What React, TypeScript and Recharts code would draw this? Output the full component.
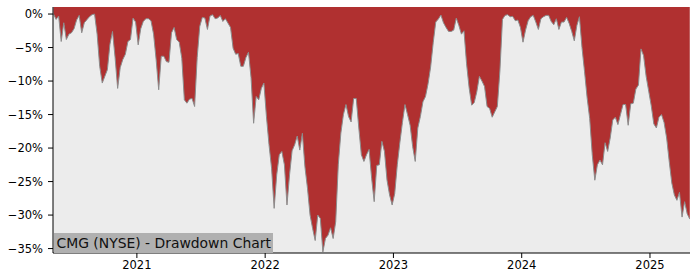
import React from 'react';
import { AreaChart, Area, XAxis, YAxis, CartesianGrid } from 'recharts';

const years = [
  2020.35, 2020.37, 2020.39, 2020.41, 2020.43, 2020.45, 2020.47, 2020.49, 2020.51, 2020.53,
  2020.55, 2020.57, 2020.59, 2020.61, 2020.63, 2020.65, 2020.67, 2020.69, 2020.71, 2020.73,
  2020.75, 2020.77, 2020.79, 2020.81, 2020.83, 2020.85, 2020.87, 2020.89, 2020.91, 2020.93,
  2020.95, 2020.97, 2020.99,
  2021.01, 2021.03, 2021.05, 2021.07, 2021.09, 2021.11, 2021.13, 2021.15, 2021.17, 2021.19,
  2021.21, 2021.23, 2021.25, 2021.27, 2021.29, 2021.31, 2021.33, 2021.35, 2021.37, 2021.39,
  2021.41, 2021.43, 2021.45, 2021.47, 2021.49, 2021.51, 2021.53, 2021.55, 2021.57, 2021.59,
  2021.61, 2021.63, 2021.65, 2021.67, 2021.69, 2021.71, 2021.73, 2021.75, 2021.77, 2021.79,
  2021.81, 2021.83, 2021.85, 2021.87, 2021.89, 2021.91, 2021.93, 2021.95, 2021.97, 2021.99,
  2022.01, 2022.03, 2022.05, 2022.07, 2022.09, 2022.11, 2022.13, 2022.15, 2022.17, 2022.19,
  2022.21, 2022.23, 2022.25, 2022.27, 2022.29, 2022.31, 2022.33, 2022.35, 2022.37, 2022.39,
  2022.41, 2022.43, 2022.45, 2022.47, 2022.49, 2022.51, 2022.53, 2022.55, 2022.57, 2022.59,
  2022.61, 2022.63, 2022.65, 2022.67, 2022.69, 2022.71, 2022.73, 2022.75, 2022.77, 2022.79,
  2022.81, 2022.83, 2022.85, 2022.87, 2022.89, 2022.91, 2022.93, 2022.95, 2022.97, 2022.99,
  2023.01, 2023.03, 2023.05, 2023.07, 2023.09, 2023.11, 2023.13, 2023.15, 2023.17, 2023.19,
  2023.21, 2023.23, 2023.25, 2023.27, 2023.29, 2023.31, 2023.33, 2023.35, 2023.37, 2023.39,
  2023.41, 2023.43, 2023.45, 2023.47, 2023.49, 2023.51, 2023.53, 2023.55, 2023.57, 2023.59,
  2023.61, 2023.63, 2023.65, 2023.67, 2023.69, 2023.71, 2023.73, 2023.75, 2023.77, 2023.79,
  2023.81, 2023.83, 2023.85, 2023.87, 2023.89, 2023.91, 2023.93, 2023.95, 2023.97, 2023.99,
  2024.01, 2024.03, 2024.05, 2024.07, 2024.09, 2024.11, 2024.13, 2024.15, 2024.17, 2024.19,
  2024.21, 2024.23, 2024.25, 2024.27, 2024.29, 2024.31, 2024.33, 2024.35, 2024.37, 2024.39,
  2024.41, 2024.43, 2024.45, 2024.47, 2024.49, 2024.51, 2024.53, 2024.55, 2024.57, 2024.59,
  2024.61, 2024.63, 2024.65, 2024.67, 2024.69, 2024.71, 2024.73, 2024.75, 2024.77, 2024.79,
  2024.81, 2024.83, 2024.85, 2024.87, 2024.89, 2024.91, 2024.93, 2024.95, 2024.97, 2024.99,
  2025.01, 2025.03, 2025.05, 2025.07, 2025.09, 2025.11, 2025.13, 2025.15, 2025.17, 2025.19,
  2025.21, 2025.23, 2025.25, 2025.27, 2025.29, 2025.31,
];

const drawdown = [
  0, -0.8, -0.3, -4.1, -1.3, -3.8, -3.0, -2.8, -2.2, -0.9,
  -0.2, -2.8, -1.3, -0.85, -0.4, -0.1, 0, -3.0, -7.8, -10.3,
  -9.3, -8.3, -4.5, -2.6, -6.5, -11.1, -8.0, -6.8, -6.0, -4.1,
  -3.8, -0.6, -1.2, -4.6, -2.2, -1.1, -0.7, -0.7, -1.0, -3.0,
  -6.8, -11.3, -6.3, -6.3, -7.1, -7.2, -2.8, -2.0, -3.8, -4.2,
  -6.6, -12.8, -13.3, -12.7, -12.6, -13.8, -6.5, -1.85, -0.5, -0.6,
  -2.3, -0.3, -0.1, -0.7, -0.6, -0.2, -1.1, -0.7, -1.35, -2.0,
  -5.1, -6.0, -5.9, -7.8, -7.8, -6.5, -5.7, -9.5, -16.3, -12.3,
  -12.8, -11.1, -10.3, -15.3, -19.5, -23.0, -29.0, -24.0, -21.0, -20.5,
  -22.5, -28.5, -24.0, -20.4, -19.5, -18.2, -20.3, -17.8, -22.8, -26.0,
  -30.0, -32.0, -33.8, -30.0, -30.5, -35.5, -33.5, -33.0, -31.9, -33.5,
  -31.0, -22.5, -17.8, -15.0, -13.5, -15.3, -16.1, -12.6, -12.6, -17.0,
  -21.0, -22.0, -21.0, -20.2, -24.5, -28.0, -22.6, -22.5, -19.0, -20.5,
  -24.8, -27.0, -28.5, -26.8, -22.5, -19.2, -16.2, -13.5, -15.0, -16.6,
  -19.8, -22.0, -17.0, -15.3, -13.1, -12.3, -10.4, -7.9, -4.3, -1.2,
  -0.75, -0.15, -1.3, -2.0, -2.6, -2.6, -2.4, -0.6, -1.7, -3.0,
  -2.5, -7.4, -11.0, -13.6, -13.2, -11.6, -9.3, -10.0, -10.8, -13.8,
  -14.1, -15.4, -14.6, -13.8, -8.5, -0.8, -0.2, -0.1, -0.4, -0.35,
  -1.0, -0.9, -2.0, -4.2, -2.4, -1.0, -0.4, -0.2, -1.2, -2.3,
  -0.7, -0.4, -0.2, -0.2, -1.1, -1.6, -0.7, -2.3, -1.2, -1.2,
  -0.5, -1.4, -2.6, -4.0, -1.7, -0.4, -5.0, -8.6, -12.5, -15.6,
  -21.0, -24.8, -22.5, -21.8, -22.5, -19.2, -20.5, -18.5, -15.8, -15.4,
  -16.5, -15.0, -13.5, -13.5, -16.6, -13.4, -13.3, -11.2, -10.6, -5.2,
  -6.2, -9.3, -11.5, -13.7, -16.4, -17.0, -15.4, -15.0, -16.2, -18.5,
  -22.0, -25.2, -27.0, -27.8, -26.6, -30.3, -28.0, -29.8, -30.6,
];

const xTicks = [2021, 2022, 2023, 2024, 2025];
const yTicks = [0, -5, -10, -15, -20, -25, -30, -35];
const title = 'CMG (NYSE) - Drawdown Chart';

const data = years.map((year, i) => ({ year, dd: drawdown[i] }));

const X_DOMAIN: [number, number] = [2020.346, 2025.312];
const Y_DOMAIN: [number, number] = [-35.66, 1.05];

const FONT = '"DejaVu Sans", sans-serif';

const fmtPct = (v: number) => (v === 0 ? '0%' : (v < 0 ? '\u2212' : '') + Math.abs(v) + '%');

export default function App() {
  return (
    <div style={{ position: 'absolute', left: 0, top: 0, width: 700, height: 280, background: '#fff' }}>
      <AreaChart
        width={700}
        height={280}
        data={data}
        margin={{ top: 7, right: 10, bottom: 0, left: 0 }}
        style={{ fontFamily: FONT }}
      >
        <CartesianGrid fill="#ececec" stroke="none" horizontal={false} vertical={false} />
        <XAxis
          dataKey="year"
          type="number"
          domain={X_DOMAIN}
          allowDataOverflow
          ticks={xTicks}
          tickFormatter={(v: number) => String(v)}
          height={27}
          tickSize={5}
          tickMargin={3}
          axisLine={{ stroke: '#000', strokeWidth: 1 }}
          tickLine={{ stroke: '#000', strokeWidth: 1 }}
          tick={{ fill: '#000', fontSize: 11.5, fontFamily: FONT }}
          interval={0}
        />
        <XAxis
          xAxisId="top"
          orientation="top"
          dataKey="year"
          type="number"
          domain={X_DOMAIN}
          allowDataOverflow
          height={0}
          tick={false}
          tickLine={false}
          axisLine={{ stroke: '#000', strokeWidth: 1 }}
        />
        <YAxis
          type="number"
          domain={Y_DOMAIN}
          allowDataOverflow
          ticks={yTicks}
          tickFormatter={fmtPct}
          width={53}
          tickSize={5}
          tickMargin={5}
          axisLine={{ stroke: '#000', strokeWidth: 1 }}
          tickLine={{ stroke: '#000', strokeWidth: 1 }}
          tick={{ fill: '#000', fontSize: 11.5, fontFamily: FONT }}
          interval={0}
        />
        <YAxis
          yAxisId="right"
          orientation="right"
          type="number"
          domain={Y_DOMAIN}
          allowDataOverflow
          width={0}
          tick={false}
          tickLine={false}
          axisLine={{ stroke: '#000', strokeWidth: 1 }}
        />
        <Area
          type="linear"
          dataKey="dd"
          baseValue={Y_DOMAIN[1]}
          stroke="#8c8c8c"
          strokeWidth={1}
          fill="#b03030"
          fillOpacity={1}
          isAnimationActive={false}
          dot={false}
          activeDot={false}
        />
      </AreaChart>
      <div
        style={{
          position: 'absolute',
          left: 53.5,
          top: 232.7,
          width: 219,
          height: 20,
          background: '#b0b0b0',
          fontFamily: FONT,
          fontSize: 13.9,
          lineHeight: '20px',
          color: '#111',
          paddingLeft: 3,
          boxSizing: 'border-box',
          whiteSpace: 'nowrap',
        }}
      >
        {title}
      </div>
    </div>
  );
}
